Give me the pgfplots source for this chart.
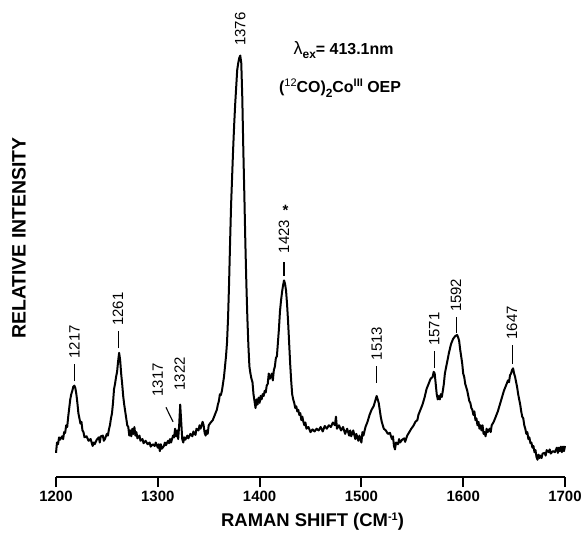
\documentclass[border=0pt]{standalone}
\usepackage{fontspec}
\setmainfont{Liberation Sans}
\usepackage{pgfplots}
\pgfplotsset{compat=1.18}
\usepackage{pgfplotstable}
\pgfplotstableread{
X Y
1200 70
1201 100
1202 95
1203 115
1204 108
1206 118
1207 110
1208 130
1209 128
1210 150
1211 145
1212 175
1213 200
1214 225
1215 240
1216 250
1217 262
1218 265
1219 258
1220 240
1221 215
1222 185
1223 170
1224 155
1225 160
1226 135
1227 130
1228 115
1230 118
1232 105
1234 110
1236 90
1237 100
1238 95
1240 108
1242 115
1243 100
1244 118
1246 120
1247 105
1248 110
1250 125
1251 120
1252 138
1253 150
1254 170
1255 185
1256 215
1257 255
1258 270
1259 290
1260 305
1261 335
1262 360
1263 340
1264 300
1265 270
1266 235
1267 210
1268 190
1269 170
1270 150
1271 145
1272 120
1273 135
1274 118
1275 140
1276 125
1277 145
1278 120
1279 130
1280 112
1282 120
1283 105
1285 110
1286 98
1288 105
1290 95
1292 100
1293 88
1295 95
1297 90
1298 100
1300 85
1301 95
1302 75
1303 95
1304 82
1306 90
1307 100
1308 92
1310 105
1311 98
1312 110
1313 100
1315 120
1316 115
1317 140
1318 118
1319 135
1320 110
1321 150
1322 210
1323 160
1324 110
1325 100
1326 115
1327 108
1329 120
1330 112
1332 125
1334 118
1335 132
1337 122
1338 140
1340 135
1341 150
1342 140
1344 160
1345 150
1346 128
1347 120
1348 135
1349 125
1350 150
1352 158
1354 165
1356 180
1358 195
1359 210
1360 220
1361 240
1362 238
1363 250
1364 270
1365 290
1366 320
1367 350
1368 390
1369 460
1370 560
1371 680
1372 790
1373 870
1374 950
1375 1020
1376 1080
1377 1130
1378 1180
1379 1200
1380 1215
1381 1222
1382 1200
1383 1100
1384 950
1385 820
1386 680
1387 560
1388 460
1389 380
1390 320
1391 300
1392 285
1393 275
1394 240
1395 220
1396 200
1397 225
1398 210
1399 230
1400 215
1401 235
1402 225
1403 240
1404 235
1405 250
1406 245
1407 265
1408 270
1409 300
1410 285
1411 290
1412 300
1413 280
1414 310
1415 320
1416 345
1417 350
1418 390
1419 430
1420 480
1421 510
1422 535
1423 555
1424 570
1425 560
1426 540
1427 500
1428 450
1429 390
1430 330
1431 280
1432 240
1433 225
1434 215
1435 200
1436 205
1437 190
1438 195
1439 180
1440 185
1441 165
1442 175
1443 160
1444 150
1445 158
1446 140
1448 145
1450 130
1452 138
1454 132
1456 140
1458 135
1460 145
1462 132
1464 148
1466 140
1468 150
1470 145
1472 158
1474 150
1475 175
1476 140
1478 150
1480 135
1482 145
1484 125
1486 140
1488 120
1489 135
1490 118
1492 135
1494 110
1495 125
1497 105
1498 120
1500 100
1501 130
1502 120
1504 145
1506 160
1508 180
1510 195
1512 205
1514 225
1515 235
1516 225
1517 215
1518 195
1519 175
1520 160
1521 150
1522 140
1524 135
1526 125
1528 128
1530 110
1531 118
1532 90
1533 80
1534 100
1536 95
1537 110
1538 100
1540 108
1542 112
1543 102
1545 120
1547 130
1549 140
1551 148
1553 160
1555 165
1556 180
1558 195
1560 210
1562 230
1564 255
1566 270
1568 285
1570 290
1571 305
1572 300
1573 270
1574 240
1575 225
1576 235
1577 225
1578 240
1579 232
1580 250
1581 270
1582 300
1584 330
1586 360
1588 385
1590 400
1592 408
1594 412
1595 405
1596 395
1597 370
1598 350
1599 330
1600 300
1601 290
1602 270
1604 250
1605 235
1606 220
1607 215
1608 200
1609 195
1610 180
1611 190
1612 165
1613 170
1614 150
1615 160
1616 140
1617 150
1618 135
1619 150
1620 125
1621 130
1622 118
1623 140
1624 130
1626 140
1627 130
1628 150
1630 160
1632 175
1634 190
1636 210
1638 230
1640 250
1642 265
1644 280
1645 275
1646 295
1647 300
1648 310
1649 315
1650 300
1651 290
1652 275
1653 260
1654 240
1655 225
1656 210
1657 190
1658 175
1659 170
1660 150
1661 140
1662 125
1663 130
1664 110
1665 115
1666 98
1667 100
1668 85
1669 90
1670 72
1671 78
1672 58
1673 50
1674 65
1675 55
1676 62
1677 55
1678 68
1680 70
1681 62
1682 78
1684 72
1685 80
1686 68
1688 75
1690 72
1692 85
1693 70
1694 85
1695 75
1696 88
1697 72
1698 88
1699 75
1700 90
}\spectrum
\begin{document}
\begin{tikzpicture}
\begin{axis}[
  scale only axis,
  width=509bp, height=477bp,
  xmin=1200, xmax=1700, ymin=0, ymax=1383,
  axis y line=none,
  axis x line*=bottom,
  x axis line style={-, line width=2.2bp},
  xtick={1200,1300,1400,1500,1600,1700},
  tick align=outside,
  major tick length=10bp,
  every tick/.style={black, line width=2bp},
  /pgf/number format/assume math mode=true,
  /pgf/number format/set thousands separator={},
  xticklabel style={font=\fontsize{15}{15}\selectfont\bfseries, yshift=-1bp},
  clip=false,
]
\addplot[black, line width=2bp, line join=round] table[x=X, y=Y] {\spectrum};
% peak labels
\def\pk{\fontsize{15}{15}\selectfont}
\draw[line width=1.1bp] (axis cs:1218,278) -- (axis cs:1218,328);
\node[rotate=90, anchor=west, inner sep=0pt, font=\pk] at (axis cs:1218,343) {1217};
\draw[line width=1.1bp] (axis cs:1261,373) -- (axis cs:1261,423);
\node[rotate=90, anchor=west, inner sep=0pt, font=\pk] at (axis cs:1261,438) {1261};
\draw[line width=1.1bp] (axis cs:1308,202) -- (axis cs:1315,160);
\node[rotate=90, anchor=west, inner sep=0pt, font=\pk] at (axis cs:1300,233) {1317};
\node[rotate=90, anchor=west, inner sep=0pt, font=\pk] at (axis cs:1321.5,250) {1322};
\node[rotate=90, anchor=west, inner sep=0pt, font=\pk] at (axis cs:1381,1250) {1376};
\draw[line width=1.1bp] (axis cs:1424,583) -- (axis cs:1424,623);
\node[rotate=90, anchor=west, inner sep=0pt, font=\pk] at (axis cs:1424,648) {1423};
\node[inner sep=0pt, font=\pk\bfseries] at (axis cs:1425.5,772) {*};
\draw[line width=1.1bp] (axis cs:1515,273) -- (axis cs:1515,323);
\node[rotate=90, anchor=west, inner sep=0pt, font=\pk] at (axis cs:1515,338) {1513};
\draw[line width=1.1bp] (axis cs:1571.5,316) -- (axis cs:1571.5,366);
\node[rotate=90, anchor=west, inner sep=0pt, font=\pk] at (axis cs:1571.5,380) {1571};
\draw[line width=1.1bp] (axis cs:1593,418) -- (axis cs:1593,463);
\node[rotate=90, anchor=west, inner sep=0pt, font=\pk] at (axis cs:1593,478) {1592};
\draw[line width=1.1bp] (axis cs:1648,328) -- (axis cs:1648,383);
\node[rotate=90, anchor=west, inner sep=0pt, font=\pk] at (axis cs:1648,398) {1647};
% annotations
\node[inner sep=0pt, font=\fontsize{16}{16}\selectfont] at (axis cs:1482.5,1238)
  {{\fontsize{18}{18}\selectfont λ}\raisebox{-4bp}{\fontsize{12}{12}\selectfont\bfseries ex}\textbf{= 413.1nm}};
\node[inner sep=0pt, font=\fontsize{16}{16}\selectfont\bfseries] at (axis cs:1479,1128)
  {(\raisebox{6bp}{\fontsize{11}{11}\selectfont\mdseries 12}CO)\raisebox{-5bp}{\fontsize{12}{12}\selectfont 2}Co\raisebox{6bp}{\fontsize{11}{11}\selectfont III} OEP};
% axis titles
\node[rotate=90, inner sep=0pt, font=\fontsize{19.5}{19.5}\selectfont\bfseries] at (axis cs:1163.5,693) {RELATIVE INTENSITY};
\node[inner sep=0pt, font=\fontsize{18.5}{18.5}\selectfont\bfseries] at (axis cs:1452,-128) {RAMAN SHIFT (CM\raisebox{6bp}{\fontsize{11}{11}\selectfont -1})};
\end{axis}
\pgfresetboundingbox
\useasboundingbox (-56bp,-63bp) rectangle (526bp,477bp);
\end{tikzpicture}
\end{document}
